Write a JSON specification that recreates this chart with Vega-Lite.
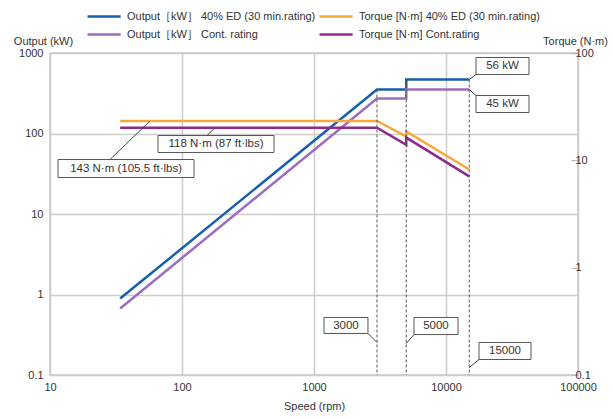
{
  "$schema": "https://vega.github.io/schema/vega-lite/v6.json",
  "width": 528,
  "height": 322,
  "autosize": {"type": "none"},
  "padding": {"left": 50, "top": 53, "right": 35, "bottom": 43},
  "background": "white",
  "config": {
    "font": "Liberation Sans",
    "view": {"stroke": "#c8c8c8", "strokeWidth": 1.5},
    "axis": {"labelFont": "Liberation Sans", "labelFontSize": 11, "labelColor": "#333333", "titleFont": "Liberation Sans", "titleFontSize": 11, "titleFontWeight": "normal", "titleColor": "#333333", "gridColor": "#cccccc", "gridWidth": 1.5, "domain": false, "ticks": false, "labelFlush": false},
    "legend": {"title": null, "orient": "none", "direction": "vertical", "symbolType": "M0,0H10", "symbolSize": 44, "symbolStrokeWidth": 2.5, "labelOffset": 34, "labelFontSize": 11, "labelColor": "#333333", "labelFont": "Liberation Sans", "rowPadding": 6, "labelLimit": 300, "padding": 0}
  },
  "datasets": {
    "outputs": [
      {"s": "Output［kW］ 40% ED (30 min.rating)", "speed": 34, "v": 0.89, "i": 0},
      {"s": "Output［kW］ 40% ED (30 min.rating)", "speed": 3000, "v": 352, "i": 1},
      {"s": "Output［kW］ 40% ED (30 min.rating)", "speed": 5000, "v": 352, "i": 2},
      {"s": "Output［kW］ 40% ED (30 min.rating)", "speed": 5000, "v": 469, "i": 3},
      {"s": "Output［kW］ 40% ED (30 min.rating)", "speed": 15000, "v": 469, "i": 4},
      {"s": "Output［kW］ Cont. rating", "speed": 34, "v": 0.67, "i": 0},
      {"s": "Output［kW］ Cont. rating", "speed": 3000, "v": 272, "i": 1},
      {"s": "Output［kW］ Cont. rating", "speed": 5000, "v": 272, "i": 2},
      {"s": "Output［kW］ Cont. rating", "speed": 5000, "v": 352, "i": 3},
      {"s": "Output［kW］ Cont. rating", "speed": 15000, "v": 352, "i": 4}
    ],
    "torques": [
      {"s": "Torque [N·m] 40% ED (30 min.rating)", "speed": 34, "v": 143, "i": 0},
      {"s": "Torque [N·m] 40% ED (30 min.rating)", "speed": 3000, "v": 143, "i": 1},
      {"s": "Torque [N·m] 40% ED (30 min.rating)", "speed": 5000, "v": 91.8, "i": 2},
      {"s": "Torque [N·m] 40% ED (30 min.rating)", "speed": 5000, "v": 106, "i": 3},
      {"s": "Torque [N·m] 40% ED (30 min.rating)", "speed": 15000, "v": 35.7, "i": 4},
      {"s": "Torque [N·m] Cont.rating", "speed": 34, "v": 118, "i": 0},
      {"s": "Torque [N·m] Cont.rating", "speed": 3000, "v": 118, "i": 1},
      {"s": "Torque [N·m] Cont.rating", "speed": 5000, "v": 72.3, "i": 2},
      {"s": "Torque [N·m] Cont.rating", "speed": 5000, "v": 89, "i": 3},
      {"s": "Torque [N·m] Cont.rating", "speed": 15000, "v": 29.3, "i": 4}
    ],
    "drops": [
      {"speed": 3000, "top": 352, "bottom": 0.1},
      {"speed": 5000, "top": 469, "bottom": 0.1},
      {"speed": 15000, "top": 469, "bottom": 0.1}
    ],
    "boxes": [
      {"label": "56 kW", "x1": 16870, "x2": 42560, "y1": 879, "y2": 541, "tx": 26790, "ty": 689},
      {"label": "45 kW", "x1": 16870, "x2": 42560, "y1": 296.5, "y2": 182.4, "tx": 26790, "ty": 232.5},
      {"label": "118 N·m (87 ft·lbs)", "x1": 65.8, "x2": 497.6, "y1": 94.4, "y2": 58.0, "tx": 181, "ty": 74.1},
      {"label": "143 N·m (105.5 ft·lbs)", "x1": 11.5, "x2": 123.3, "y1": 47.5, "y2": 28.4, "tx": 37.7, "ty": 36.7},
      {"label": "3000", "x1": 1191, "x2": 2564, "y1": 0.518, "y2": 0.328, "tx": 1747, "ty": 0.412},
      {"label": "5000", "x1": 5722, "x2": 12330, "y1": 0.518, "y2": 0.318, "tx": 8395, "ty": 0.407},
      {"label": "15000", "x1": 17780, "x2": 44040, "y1": 0.2535, "y2": 0.1558, "tx": 27990, "ty": 0.1987}
    ],
    "leaders": [
      {"x1": 15000, "y1": 469, "x2": 16870, "y2": 541},
      {"x1": 15000, "y1": 352, "x2": 16870, "y2": 296.5},
      {"x1": 177.8, "y1": 118, "x2": 154.6, "y2": 94.4},
      {"x1": 57.2, "y1": 143, "x2": 28.5, "y2": 47.5},
      {"x1": 2564, "y1": 0.328, "x2": 3000, "y2": 0.2535},
      {"x1": 5722, "y1": 0.318, "x2": 5000, "y2": 0.246},
      {"x1": 17780, "y1": 0.1558, "x2": 15000, "y2": 0.124}
    ]
  },
  "layer": [
    {
      "layer": [
        {
          "data": {"name": "outputs"},
          "mark": {"type": "line", "strokeWidth": 2.5, "strokeJoin": "miter", "clip": true},
          "encoding": {
            "x": {"field": "speed", "type": "quantitative", "scale": {"type": "log", "domain": [10, 100000]},
              "axis": {"values": [10, 100, 1000, 10000, 100000], "format": "~g", "grid": true, "labelPadding": 6, "title": "Speed (rpm)", "titlePadding": 8}},
            "y": {"field": "v", "type": "quantitative", "scale": {"type": "log", "domain": [0.1, 1000]},
              "axis": {"orient": "left", "values": [0.1, 1, 10, 100, 1000], "format": "~g", "grid": true, "labelPadding": 7, "title": "Output (kW)", "titleAngle": 0, "titleX": -7, "titleY": -9, "titleAlign": "center", "titleBaseline": "alphabetic"}},
            "stroke": {"field": "s", "type": "nominal",
              "scale": {"domain": ["Output［kW］ 40% ED (30 min.rating)", "Output［kW］ Cont. rating"], "range": ["#155fae", "#9b6cbf"]},
              "legend": {"legendX": 32, "legendY": -42}},
            "order": {"field": "i", "type": "quantitative"}
          }
        },
        {
          "data": {"name": "torques"},
          "mark": {"type": "line", "strokeWidth": 2.5, "strokeJoin": "miter", "clip": true},
          "encoding": {
            "x": {"field": "speed", "type": "quantitative", "scale": {"type": "log", "domain": [10, 100000]},
              "axis": {"values": [10, 100, 1000, 10000, 100000], "format": "~g", "grid": true, "labelPadding": 6, "title": "Speed (rpm)", "titlePadding": 8}},
            "y": {"field": "v", "type": "quantitative", "scale": {"type": "log", "domain": [0.1, 1000]},
              "axis": {"orient": "left", "values": [0.1, 1, 10, 100, 1000], "format": "~g", "grid": true, "labelPadding": 7, "title": "Output (kW)", "titleAngle": 0, "titleX": -7, "titleY": -9, "titleAlign": "center", "titleBaseline": "alphabetic"}},
            "color": {"field": "s", "type": "nominal",
              "scale": {"domain": ["Torque [N·m] 40% ED (30 min.rating)", "Torque [N·m] Cont.rating"], "range": ["#f8a83b", "#8e2a8f"]},
              "legend": {"legendX": 264, "legendY": -42}},
            "order": {"field": "i", "type": "quantitative"}
          }
        },
        {
          "data": {"name": "drops"},
          "mark": {"type": "rule", "color": "#555555", "strokeWidth": 1, "strokeDash": [3, 2]},
          "encoding": {
            "x": {"field": "speed", "type": "quantitative", "scale": {"type": "log", "domain": [10, 100000]},
              "axis": {"values": [10, 100, 1000, 10000, 100000], "format": "~g", "grid": true, "labelPadding": 6, "title": "Speed (rpm)", "titlePadding": 8}},
            "y": {"field": "top", "type": "quantitative", "scale": {"type": "log", "domain": [0.1, 1000]},
              "axis": {"orient": "left", "values": [0.1, 1, 10, 100, 1000], "format": "~g", "grid": true, "labelPadding": 7, "title": "Output (kW)", "titleAngle": 0, "titleX": -7, "titleY": -9, "titleAlign": "center", "titleBaseline": "alphabetic"}},
            "y2": {"field": "bottom"}
          }
        },
        {
          "data": {"name": "leaders"},
          "mark": {"type": "rule", "color": "#444444", "strokeWidth": 1},
          "encoding": {
            "x": {"field": "x1", "type": "quantitative", "scale": {"type": "log", "domain": [10, 100000]},
              "axis": {"values": [10, 100, 1000, 10000, 100000], "format": "~g", "grid": true, "labelPadding": 6, "title": "Speed (rpm)", "titlePadding": 8}},
            "x2": {"field": "x2"},
            "y": {"field": "y1", "type": "quantitative", "scale": {"type": "log", "domain": [0.1, 1000]},
              "axis": {"orient": "left", "values": [0.1, 1, 10, 100, 1000], "format": "~g", "grid": true, "labelPadding": 7, "title": "Output (kW)", "titleAngle": 0, "titleX": -7, "titleY": -9, "titleAlign": "center", "titleBaseline": "alphabetic"}},
            "y2": {"field": "y2"}
          }
        },
        {
          "data": {"name": "boxes"},
          "mark": {"type": "rect", "fill": "white", "stroke": "#555555", "strokeWidth": 1},
          "encoding": {
            "x": {"field": "x1", "type": "quantitative", "scale": {"type": "log", "domain": [10, 100000]},
              "axis": {"values": [10, 100, 1000, 10000, 100000], "format": "~g", "grid": true, "labelPadding": 6, "title": "Speed (rpm)", "titlePadding": 8}},
            "x2": {"field": "x2"},
            "y": {"field": "y1", "type": "quantitative", "scale": {"type": "log", "domain": [0.1, 1000]},
              "axis": {"orient": "left", "values": [0.1, 1, 10, 100, 1000], "format": "~g", "grid": true, "labelPadding": 7, "title": "Output (kW)", "titleAngle": 0, "titleX": -7, "titleY": -9, "titleAlign": "center", "titleBaseline": "alphabetic"}},
            "y2": {"field": "y2"}
          }
        },
        {
          "data": {"name": "boxes"},
          "mark": {"type": "text", "fontSize": 11.5, "font": "Liberation Sans", "color": "#333333", "align": "center", "baseline": "middle"},
          "encoding": {
            "x": {"field": "tx", "type": "quantitative", "scale": {"type": "log", "domain": [10, 100000]},
              "axis": {"values": [10, 100, 1000, 10000, 100000], "format": "~g", "grid": true, "labelPadding": 6, "title": "Speed (rpm)", "titlePadding": 8}},
            "y": {"field": "ty", "type": "quantitative", "scale": {"type": "log", "domain": [0.1, 1000]},
              "axis": {"orient": "left", "values": [0.1, 1, 10, 100, 1000], "format": "~g", "grid": true, "labelPadding": 7, "title": "Output (kW)", "titleAngle": 0, "titleX": -7, "titleY": -9, "titleAlign": "center", "titleBaseline": "alphabetic"}},
            "text": {"field": "label"}
          }
        }
      ]
    },
    {
      "data": {"values": [{"t": 0.1}, {"t": 100}]},
      "mark": {"type": "point", "opacity": 0},
      "encoding": {
        "y": {"field": "t", "type": "quantitative", "scale": {"type": "log", "domain": [0.1, 100]},
          "axis": {"orient": "right", "values": [0.1, 1, 10, 100], "format": "~g", "grid": false, "ticks": true, "tickSize": -7, "tickColor": "#b4b4b4", "tickWidth": 1, "labelPadding": 4, "title": "Torque (N·m)", "titleAngle": 0, "titleX": -3, "titleY": -9, "titleAlign": "center", "titleBaseline": "alphabetic"}}
      }
    }
  ],
  "resolve": {"scale": {"y": "independent"}}
}
